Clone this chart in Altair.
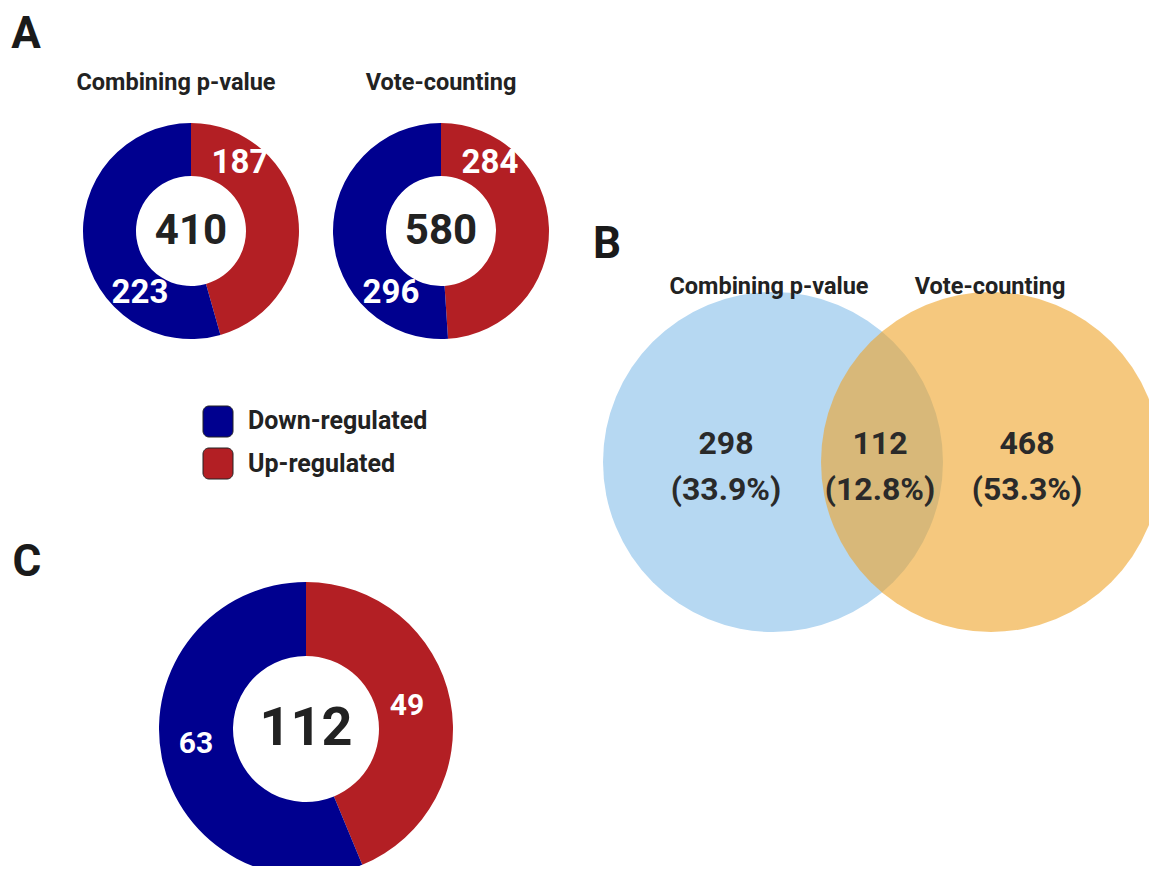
import math
import altair as alt
import pandas as pd

# ---------------- data ----------------
donut_names = ["Combining p-value", "Vote-counting", "Overlap"]
up_values = [187, 284, 49]
down_values = [223, 296, 63]
totals = [410, 580, 112]

venn_sets = ["Combining p-value", "Vote-counting"]
venn_counts = [298, 112, 468]
venn_pcts = ["(33.9%)", "(12.8%)", "(53.3%)"]

legend_labels = ["Down-regulated", "Up-regulated"]

# ---------------- layout (reference pixel coordinates) ----------------
donut_cx = [191, 441, 306]
donut_cy = [231, 231, 729]
donut_r_out = [108, 108, 147]
donut_r_in = [55, 55, 73]
BLUE = "#00008F"
RED = "#B31F24"

slices = []
for i, name in enumerate(donut_names):
    up_end = 2 * math.pi * up_values[i] / (up_values[i] + down_values[i])
    slices.append(dict(name=name, kind="Up", t0=0.0, t1=up_end, cx=donut_cx[i], cy=donut_cy[i],
                       ro=donut_r_out[i], ri=donut_r_in[i], col=RED))
    slices.append(dict(name=name, kind="Down", t0=up_end, t1=2 * math.pi, cx=donut_cx[i], cy=donut_cy[i],
                       ro=donut_r_out[i], ri=donut_r_in[i], col=BLUE))
slices_df = pd.DataFrame(slices)

up_lab_pos = [(240, 163), (490, 163), (407, 706)]
down_lab_pos = [(140, 293), (391, 293), (196, 744)]
val_labels = []
for i in range(3):
    val_labels.append(dict(t=str(up_values[i]), x=up_lab_pos[i][0], y=up_lab_pos[i][1],
                           fs=33 if i < 2 else 30))
    val_labels.append(dict(t=str(down_values[i]), x=down_lab_pos[i][0], y=down_lab_pos[i][1],
                           fs=33 if i < 2 else 30))
val_df = pd.DataFrame(val_labels)

tot_df = pd.DataFrame(dict(t=[str(v) for v in totals], x=donut_cx, y=donut_cy,
                           fs=[42, 42, 54]))

titles_df = pd.DataFrame(dict(t=[donut_names[0], donut_names[1], venn_sets[0], venn_sets[1]],
                              x=[176, 441, 769, 990], y=[83, 83, 287, 287]))

letters_df = pd.DataFrame(dict(t=["A", "B", "C"], x=[26, 607, 27], y=[48, 258, 576]))

venn_df = pd.DataFrame(dict(name=venn_sets, cx=[773, 991], cy=[462, 462], r=[170, 170],
                            col=["#B6D8F2", "#EEA328"], op=[1.0, 0.6],
                            t0=[0.0, 0.0], t1=[2 * math.pi, 2 * math.pi]))

venn_txt = pd.DataFrame(dict(cnt=[str(v) for v in venn_counts], pct=venn_pcts,
                             x=[726, 880, 1027], y1=[444, 444, 444], y2=[490, 490, 490]))

legend_df = pd.DataFrame(dict(t=legend_labels, x0=[203, 203], x1=[233, 233],
                              y0=[406, 448], y1=[437, 479], col=[BLUE, RED],
                              tx=[248, 248], ty=[421, 464]))

# ---------------- scales ----------------
XS = alt.Scale(domain=[8, 1149], nice=False, zero=False)
YS = alt.Scale(domain=[8, 866], nice=False, zero=False, reverse=True)
FONT = "Roboto"


def X(f):
    return alt.X(f, type="quantitative", scale=XS, axis=None)


def Y(f):
    return alt.Y(f, type="quantitative", scale=YS, axis=None)


venn = alt.Chart(venn_df).mark_arc(clip=True).encode(
    x=X("cx"), y=Y("cy"),
    theta=alt.Theta("t0:Q", scale=None, stack=False), theta2="t1:Q",
    radius=alt.Radius("r:Q", scale=None),
    color=alt.Color("col:N", scale=None),
    opacity=alt.Opacity("op:Q", scale=None),
)

donuts = alt.Chart(slices_df).mark_arc(clip=True).encode(
    x=X("cx"), y=Y("cy"),
    theta=alt.Theta("t0:Q", scale=None, stack=False), theta2="t1:Q",
    radius=alt.Radius("ro:Q", scale=None), radius2="ri:Q",
    color=alt.Color("col:N", scale=None),
)

vals = alt.Chart(val_df).mark_text(font=FONT, fontWeight="bold", color="white",
                                   align="center", baseline="middle").encode(
    x=X("x"), y=Y("y"), text="t:N", size=alt.Size("fs:Q", scale=None))

tots = alt.Chart(tot_df).mark_text(font=FONT, fontWeight="bold", color="#222222",
                                   align="center", baseline="middle").encode(
    x=X("x"), y=Y("y"), text="t:N", size=alt.Size("fs:Q", scale=None))

titles = alt.Chart(titles_df).mark_text(font=FONT, fontWeight="bold", color="#222222",
                                        fontSize=23.5, align="center", baseline="middle").encode(
    x=X("x"), y=Y("y"), text="t:N")

letters = alt.Chart(letters_df).mark_text(font=FONT, fontWeight="bold", color="#1a1a1a",
                                          fontSize=44, align="center", baseline="alphabetic").encode(
    x=X("x"), y=Y("y"), text="t:N")

vt1 = alt.Chart(venn_txt).mark_text(font=FONT, fontWeight="bold", color="#2a2a2a",
                                    fontSize=32, align="center", baseline="middle").encode(
    x=X("x"), y=Y("y1"), text="cnt:N")
vt2 = alt.Chart(venn_txt).mark_text(font=FONT, fontWeight="bold", color="#2a2a2a",
                                    fontSize=32, align="center", baseline="middle").encode(
    x=X("x"), y=Y("y2"), text="pct:N")

leg_box = alt.Chart(legend_df).mark_rect(cornerRadius=6, stroke="#222222", strokeWidth=1).encode(
    x=X("x0"), x2="x1", y=Y("y0"), y2="y1", color=alt.Color("col:N", scale=None))
leg_txt = alt.Chart(legend_df).mark_text(font=FONT, fontWeight="bold", color="#222222",
                                         fontSize=25, align="left", baseline="middle").encode(
    x=X("tx"), y=Y("ty"), text="t:N")

chart = alt.layer(venn, donuts, vals, tots, titles, letters, vt1, vt2, leg_box, leg_txt).properties(
    width=1141, height=858, padding=0, background="white"
).configure_view(stroke=None, strokeWidth=0)

chart.save("out.html", embed_options={"renderer": "svg", "actions": False})
